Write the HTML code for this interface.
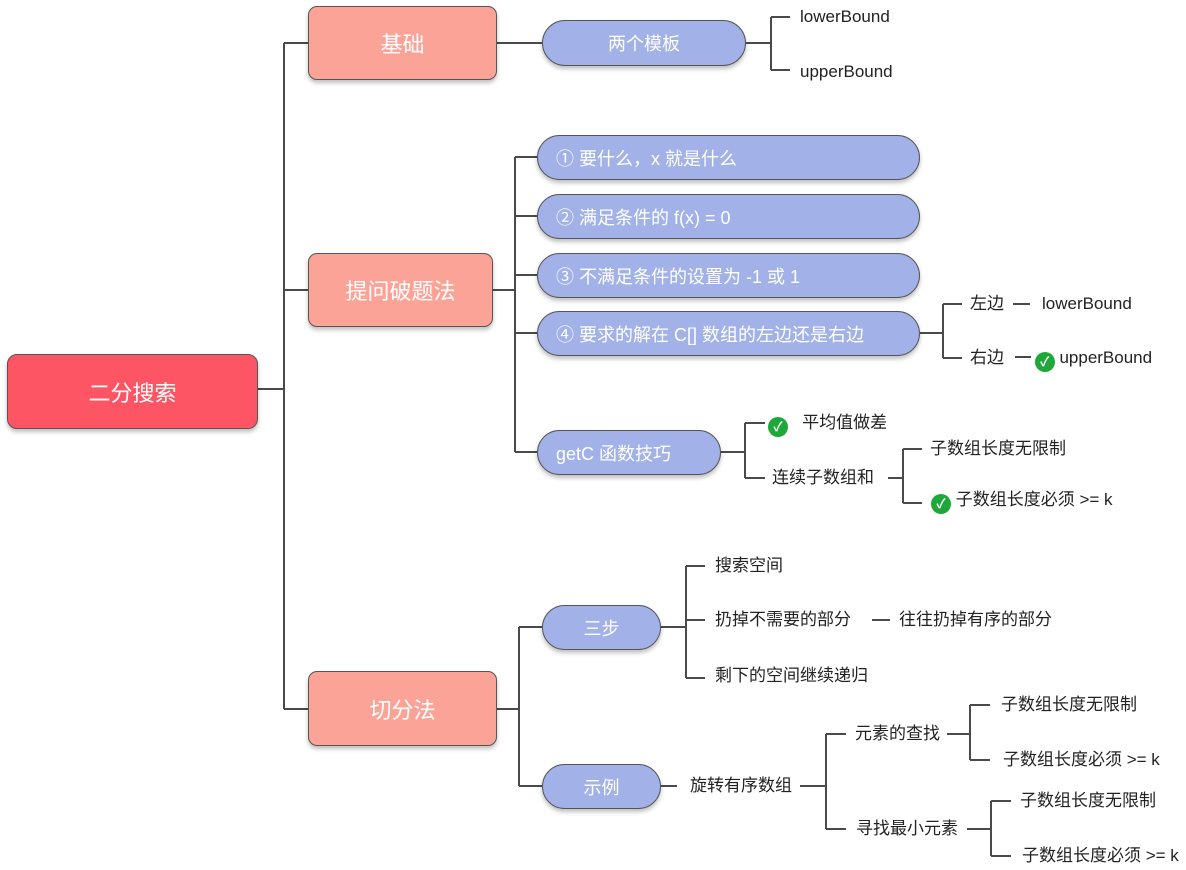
<!DOCTYPE html>
<html><head><meta charset="utf-8"><style>
body{margin:0;width:1186px;height:870px;background:#fff;position:relative;overflow:hidden;font-family:"Liberation Sans","Noto Sans CJK SC",sans-serif;}
.n{position:absolute;box-sizing:border-box;border:1.5px solid #555;color:#fff;display:flex;align-items:center;justify-content:center;box-shadow:0 3px 4px rgba(0,0,0,.25);font-weight:normal;}
.r{background:#fe5565;border-radius:10px;font-size:22px;}
.s{background:#fca397;border-radius:9px;font-size:22px;}
.p{background:#a2b2e8;border-radius:23px;font-size:18px;}
.pl{justify-content:flex-start;padding-left:18px;}
.t{position:absolute;font-size:17px;color:#222;line-height:20px;transform:translateY(-10px);white-space:nowrap;font-weight:normal;}
.ck{display:inline-block;width:20px;height:20px;border-radius:50%;background:#1fa83a;color:#fff;font-size:13px;text-align:center;line-height:20px;vertical-align:-3px;font-weight:bold;}
svg{position:absolute;left:0;top:0;}
</style></head><body>
<svg width="1186" height="870" fill="none" stroke="#4a4a4a" stroke-width="2">
<path d="M258 389H284M284 43V709M284 43H308M284 290H308M284 709H308"/>
<path d="M497 43H542M746 43H771M771 17V70M771 17H790M771 70H790"/>
<path d="M493 290H515M515 157V452M515 157H537M515 216H537M515 275H537M515 333H537M515 452H537"/>
<path d="M920 333H943M943 304V358M943 304H962M943 358H962M1013 304H1030"/>
<path d="M721 452H745M745 423V478M745 423H765M745 478H765M888 478H903M903 449V503M903 449H922M903 503H922"/>
<path d="M497 709H519M519 627V786M519 627H542M519 786H542"/>
<path d="M661 627H686M686 566V678M686 566H705M686 678H705M686 620H705M872 620H890"/>
<path d="M661 786H677M800 786H826M826 734V829M826 734H846M826 829H846M947 734H970M970 705V760M970 705H990M970 760H990M967 829H991M991 801V856M991 801H1011M991 856H1011"/>
</svg>
<div class="n r" style="left:7px;top:354px;width:251px;height:75px">二分搜索</div>
<div class="n s" style="left:308px;top:6px;width:189px;height:74px">基础</div>
<div class="n s" style="left:308px;top:253px;width:185px;height:74px">提问破题法</div>
<div class="n s" style="left:308px;top:671px;width:189px;height:75px">切分法</div>
<div class="n p" style="left:542px;top:20px;width:204px;height:46px">两个模板</div>
<div class="n p pl" style="left:537px;top:135px;width:383px;height:45px">① 要什么，x 就是什么</div>
<div class="n p pl" style="left:537px;top:194px;width:383px;height:45px">② 满足条件的 f(x) = 0</div>
<div class="n p pl" style="left:537px;top:253px;width:383px;height:45px">③ 不满足条件的设置为 -1 或 1</div>
<div class="n p pl" style="left:537px;top:311px;width:383px;height:45px">④ 要求的解在 C[] 数组的左边还是右边</div>
<div class="n p pl" style="left:537px;top:430px;width:184px;height:45px">getC 函数技巧</div>
<div class="n p" style="left:542px;top:605px;width:119px;height:45px">三步</div>
<div class="n p" style="left:542px;top:764px;width:119px;height:45px">示例</div>
<div class="t" style="left:800px;top:17px">lowerBound</div>
<div class="t" style="left:800px;top:72px">upperBound</div>
<div class="t" style="left:970px;top:304px">左边</div>
<div class="t" style="left:1042px;top:304px">lowerBound</div>
<div class="t" style="left:970px;top:358px">右边 <span style="display:inline-block;width:16px;border-top:2px solid #4a4a4a;vertical-align:5px;margin:0 4px 0 6px"></span><span class="ck">✓</span> upperBound</div>
<div class="t" style="left:768px;top:423px"><span class="ck">✓</span> &nbsp;&nbsp;平均值做差</div>
<div class="t" style="left:772px;top:478px">连续子数组和</div>
<div class="t" style="left:930px;top:449px">子数组长度无限制</div>
<div class="t" style="left:931px;top:500px"><span class="ck">✓</span> 子数组长度必须 &gt;= k</div>
<div class="t" style="left:715px;top:566px">搜索空间</div>
<div class="t" style="left:715px;top:620px">扔掉不需要的部分</div>
<div class="t" style="left:899px;top:620px">往往扔掉有序的部分</div>
<div class="t" style="left:715px;top:676px">剩下的空间继续递归</div>
<div class="t" style="left:690px;top:786px">旋转有序数组</div>
<div class="t" style="left:855px;top:734px">元素的查找</div>
<div class="t" style="left:856px;top:829px">寻找最小元素</div>
<div class="t" style="left:1001px;top:705px">子数组长度无限制</div>
<div class="t" style="left:1003px;top:760px">子数组长度必须 &gt;= k</div>
<div class="t" style="left:1020px;top:801px">子数组长度无限制</div>
<div class="t" style="left:1022px;top:856px">子数组长度必须 &gt;= k</div>
</body></html>
